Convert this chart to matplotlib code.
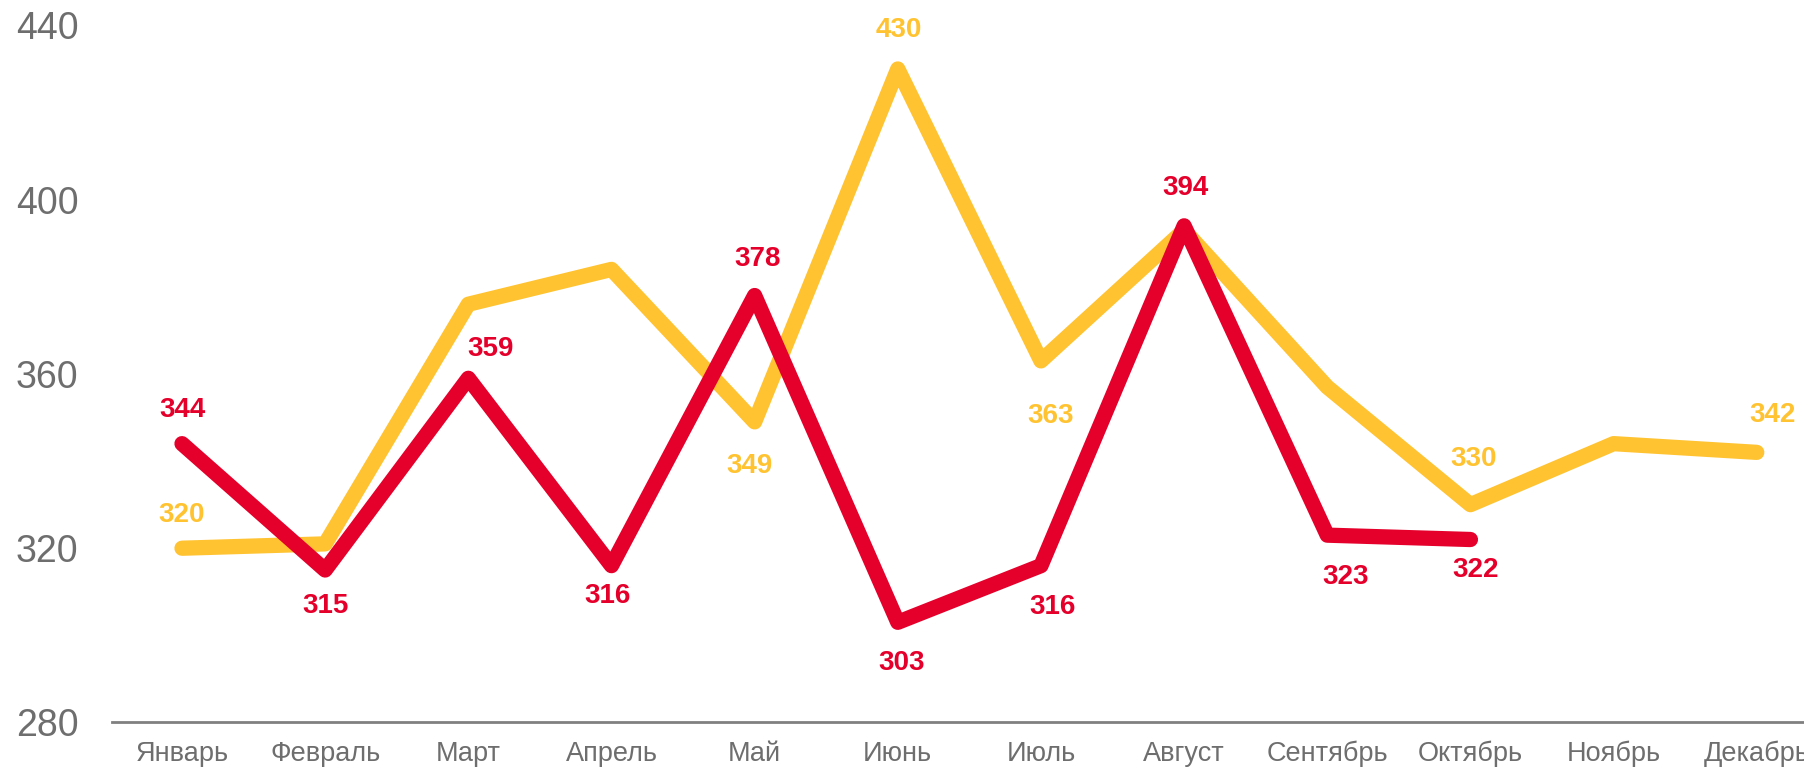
import matplotlib
matplotlib.use("Agg")
import matplotlib.pyplot as plt
from matplotlib import font_manager

months = ["Январь", "Февраль", "Март", "Апрель", "Май", "Июнь", "Июль",
          "Август", "Сентябрь", "Октябрь", "Ноябрь", "Декабрь"]
yellow_vals = [320, 321, 376, 384, 349, 430, 363, 393, 357, 330, 344, 342]
red_vals = [344, 315, 359, 316, 378, 303, 316, 394, 323, 322]
yticks = [280, 320, 360, 400, 440]

# which yellow points carry a label, and label offsets (points)
yellow_labeled = [0, 4, 5, 6, 9, 11]
yellow_off = {0: (0, 24), 4: (-4, -32), 5: (1, 28), 6: (7, -40), 9: (2, 33), 11: (11, 27)}
red_off = [(0, 24), (0, -26), (16, 21), (-3, -22), (2, 26), (3, -29),
           (8.5, -30), (1, 27), (13, -30), (3.6, -22)]

YELLOW = "#FFC331"
RED = "#E4002B"
GRAY = "#6E6E6E"

names = {f.name for f in font_manager.fontManager.ttflist}
tick_font = "Liberation Sans Narrow" if "Liberation Sans Narrow" in names else "Liberation Sans"

fig = plt.figure(figsize=(18.04, 7.70), dpi=100)
ax = fig.add_axes([0.062, 0.0617, 0.938, 0.9053])

x = list(range(len(months)))
ax.plot(x, yellow_vals, color=YELLOW, lw=11, solid_capstyle="round",
        solid_joinstyle="round", zorder=2)
ax.plot(x[:len(red_vals)], red_vals, color=RED, lw=11, solid_capstyle="round",
        solid_joinstyle="round", zorder=3)

for i in yellow_labeled:
    dx, dy = yellow_off[i]
    ax.annotate(str(yellow_vals[i]), (i, yellow_vals[i]), xytext=(dx, dy),
                textcoords="offset points", ha="center", va="center",
                fontsize=20, fontweight="bold", color=YELLOW,
                family="Liberation Sans", zorder=4)
for i, v in enumerate(red_vals):
    dx, dy = red_off[i]
    ax.annotate(str(v), (i, v), xytext=(dx, dy), textcoords="offset points",
                ha="center", va="center", fontsize=20, fontweight="bold",
                color=RED, family="Liberation Sans", zorder=4)

ax.set_xlim(-0.49, 11.33)
ax.set_ylim(280, 440)
ax.set_yticks(yticks)
ax.set_yticklabels([str(t) for t in yticks], fontsize=27, color=GRAY,
                   family="Liberation Sans")
ax.set_xticks(x)
ax.set_xticklabels(months, fontsize=19.5, color=GRAY, family=tick_font)
ax.tick_params(axis="y", length=0, pad=24)
ax.tick_params(axis="x", length=0, pad=13)
for s in ["top", "right", "left"]:
    ax.spines[s].set_visible(False)
ax.spines["bottom"].set_color("#808080")
ax.spines["bottom"].set_linewidth(2)

fig.savefig("out.png", dpi=100)
